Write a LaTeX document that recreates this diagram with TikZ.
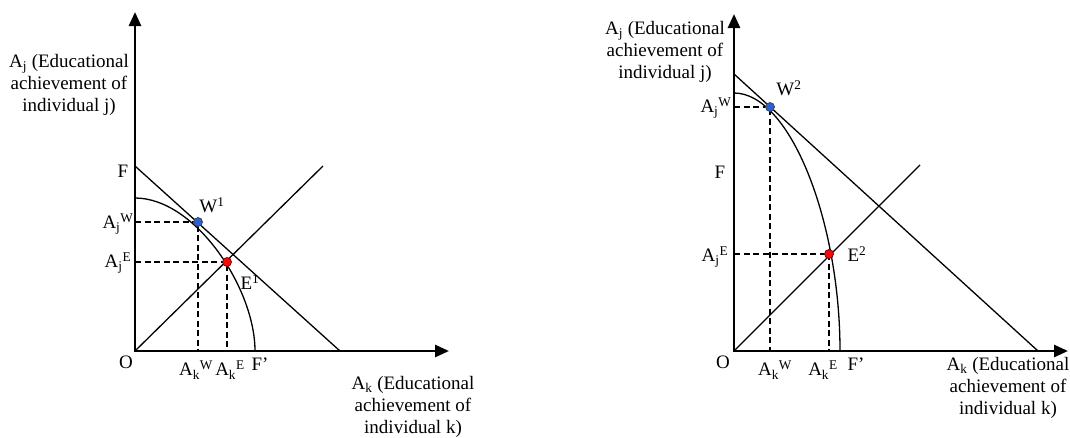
\documentclass[tikz,border=0pt]{standalone}
\usepackage{fontspec}
\setmainfont{Liberation Serif}
\usetikzlibrary{arrows.meta}
\definecolor{wblue}{RGB}{45,95,215}
\definecolor{ered}{RGB}{245,10,10}
\begin{document}
\begin{tikzpicture}[x=1pt,y=-1pt,
  axes/.style={line width=2.7pt,{Triangle[length=14pt,width=12pt]}-{Triangle[length=14pt,width=12pt]}},
  thinline/.style={line width=1.3pt},
  guide/.style={line width=1.9pt,dash pattern=on 6pt off 3.5pt},
  wdot/.style={circle,inner sep=0pt,minimum size=9pt,draw=black!75,line width=0.7pt,fill=wblue},
  edot/.style={circle,inner sep=0pt,minimum size=9pt,draw=black!55!red,line width=0.7pt,fill=ered},
  lbl/.style={inner sep=0pt,font=\fontsize{19}{22}\selectfont},
  biglbl/.style={lbl,align=center}]
\useasboundingbox (0,0) rectangle (1070,437);

% ---------------- Left panel ----------------
\coordinate (O1) at (135,351);
\coordinate (Yt1) at (135,12);
\coordinate (Xt1) at (449,351);
\coordinate (F1) at (135,166);
\coordinate (Fx1) at (340,351);
\coordinate (C1s) at (135,198);
\coordinate (C1e) at (255,351);
\coordinate (D1) at (323,166);
\coordinate (WA1) at (135,222);
\coordinate (WB1) at (198,351);
\coordinate (EA1) at (135,262);
\coordinate (EB1) at (227,351);

\draw[guide] (WA1) -- (198,222) -- (WB1);
\draw[guide] (EA1) -- (227,262) -- (EB1);
\draw[thinline] (F1) -- (Fx1);
\draw[thinline] (C1s) .. controls (195,198) and (255,288) .. (C1e);
\draw[thinline] (O1) -- (D1);
\draw[axes] (Yt1) -- (O1) -- (Xt1);
\node[wdot] (W1) at (198,222) {};
\node[edot] (E1) at (227,262) {};

\node[lbl] (lF1) at (123,171) {F};
\node[lbl] (lAjW1) at (118,224) {A\textsubscript{j}\textsuperscript{W}};
\node[lbl] (lAjE1) at (118,263) {A\textsubscript{j}\textsuperscript{E}};
\node[lbl] (lW1) at (212,205) {W\textsuperscript{1}};
\node[lbl] (lE1) at (250,282) {E\textsuperscript{1}};
\node[lbl] (lO1) at (126,362) {O};
\node[lbl] (lAkW1) at (196,370) {A\textsubscript{k}\textsuperscript{W}};
\node[lbl] (lAkE1) at (230,370) {A\textsubscript{k}\textsuperscript{E}};
\node[lbl] (lFp1) at (260,364) {F'};
\node[biglbl] (ty1) at (69,85) {A\textsubscript{j} (Educational\\achievement of\\individual j)};
\node[biglbl] (tx1) at (413,407) {A\textsubscript{k} (Educational\\achievement of\\individual k)};

% ---------------- Right panel ----------------
\coordinate (O2) at (734,351);
\coordinate (Yt2) at (734,14);
\coordinate (Xt2) at (1068,351);
\coordinate (F2) at (734,74);
\coordinate (Fx2) at (1038,351);
\coordinate (C2s) at (734,93);
\coordinate (C2e) at (840,351);
\coordinate (D2) at (920,165);
\coordinate (WA2) at (734,107);
\coordinate (WB2) at (770,351);
\coordinate (EA2) at (734,254);
\coordinate (EB2) at (829,351);

\draw[guide] (WA2) -- (770,107) -- (WB2);
\draw[guide] (EA2) -- (829,254) -- (EB2);
\draw[thinline] (F2) -- (Fx2);
\draw[thinline] (C2s) .. controls (790,93) and (840,221) .. (C2e);
\draw[thinline] (O2) -- (D2);
\draw[axes] (Yt2) -- (O2) -- (Xt2);
\node[wdot] (W2) at (770,107) {};
\node[edot] (E2) at (829,254) {};

\node[lbl] (lF2) at (720,172) {F};
\node[lbl] (lAjW2) at (716,108) {A\textsubscript{j}\textsuperscript{W}};
\node[lbl] (lAjE2) at (715,257) {A\textsubscript{j}\textsuperscript{E}};
\node[lbl] (lW2) at (789,88) {W\textsuperscript{2}};
\node[lbl] (lE2) at (857,254) {E\textsuperscript{2}};
\node[lbl] (lO2) at (723,362) {O};
\node[lbl] (lAkW2) at (775,370) {A\textsubscript{k}\textsuperscript{W}};
\node[lbl] (lAkE2) at (823,370) {A\textsubscript{k}\textsuperscript{E}};
\node[lbl] (lFp2) at (856,364) {F'};
\node[biglbl] (ty2) at (665,52) {A\textsubscript{j} (Educational\\achievement of\\individual j)};
\node[biglbl] (tx2) at (1008,388) {A\textsubscript{k} (Educational\\achievement of\\individual k)};
\end{tikzpicture}
\end{document}
